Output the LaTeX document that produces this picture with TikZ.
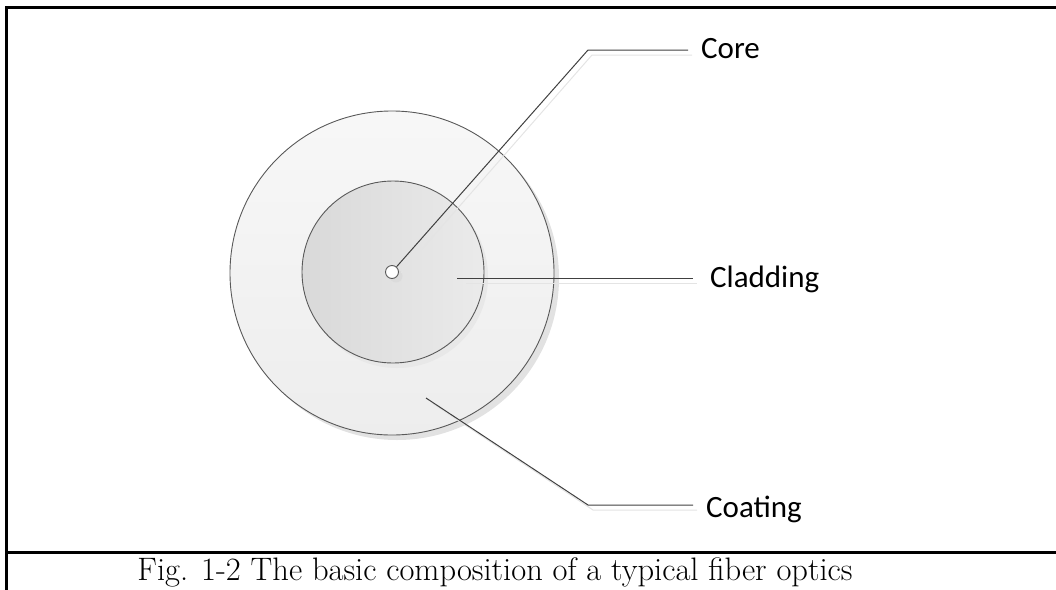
\documentclass[tikz,border=0pt]{standalone}
\usepackage{fontspec}
\newfontfamily\labelfont{Carlito}
\definecolor{edgegray}{HTML}{595959}
\definecolor{leadgray}{HTML}{404040}
\definecolor{shadegray}{HTML}{E2E2E2}
\definecolor{lineshadow}{HTML}{E4E4E4}
\begin{document}
\begin{tikzpicture}[x=1pt,y=-1pt,
  ring/.style={circle, draw=edgegray, line width=0.9pt, inner sep=0pt},
  ringshadow/.style={circle, fill=shadegray, inner sep=0pt},
  leader/.style={draw=leadgray, line width=1pt},
  leadershadow/.style={draw=lineshadow, line width=1pt},
  lbl/.style={font=\labelfont\fontsize{31}{31}\selectfont, anchor=base west, inner sep=0pt},
  frameline/.style={draw=black, line width=3pt}]
\useasboundingbox (0,0) rectangle (1056,589);
% frame
\coordinate (ftl) at (6,7);
\coordinate (ftr) at (1060,7);
\coordinate (fbl) at (6,592);
\coordinate (sepl) at (6,552);
\coordinate (sepr) at (1060,552);
\draw[frameline] (fbl) -- (ftl) -- (ftr);
\draw[frameline] (sepl) -- (sepr);
% circles with shadows
\node[ringshadow, minimum size=324pt] (outershadow) at (397,278) {};
\node[ring, minimum size=324pt, top color=white!97!black, bottom color=white!93!black] (outer) at (392,273) {};
\node[ringshadow, fill=white!91!black, minimum size=182pt] (innershadow) at (397,277) {};
\node[ring, minimum size=182pt, left color=white!85!black, right color=white!92!black] (inner) at (393,272) {};
\node[ringshadow, fill=white!86!black, minimum size=13pt] (coreshadow) at (396,276) {};
\node[ring, fill=white, minimum size=13pt] (core) at (392,272) {};
% leader shadows
\coordinate (coresh1) at (401,273);
\coordinate (coresh2) at (592,55);
\coordinate (coresh3) at (692,55);
\draw[leadershadow] (coresh1) -- (coresh2) -- (coresh3);
\coordinate (cladsh1) at (466,283);
\coordinate (cladsh2) at (697,283);
\draw[leadershadow] (cladsh1) -- (cladsh2);
\coordinate (coatsh1) at (432,403);
\coordinate (coatsh2) at (593,510);
\coordinate (coatsh3) at (697,510);
\draw[leadershadow] (coatsh1) -- (coatsh2) -- (coatsh3);
% leaders
\coordinate (corebend) at (588,50);
\coordinate (coreend) at (688,50);
\draw[leader] (core.49) -- (corebend) -- (coreend);
\coordinate (cladstart) at (457,278);
\coordinate (cladend) at (693,278);
\draw[leader] (cladstart) -- (cladend);
\coordinate (coatstart) at (426,398);
\coordinate (coatbend) at (588,505);
\coordinate (coatend) at (693,505);
\draw[leader] (coatstart) -- (coatbend) -- (coatend);
% labels
\node[lbl] (corelbl) at (701,58) {Core};
\node[lbl] (cladlbl) at (710,287) {Cladding};
\node[lbl] (coatlbl) at (706,517) {Coating};
% caption
\node[font=\fontsize{32.5}{32.5}\selectfont, anchor=base, inner sep=0pt] (caption) at (495,580) {Fig. 1-2 The basic composition of a typical fiber optics};
\end{tikzpicture}
\end{document}
